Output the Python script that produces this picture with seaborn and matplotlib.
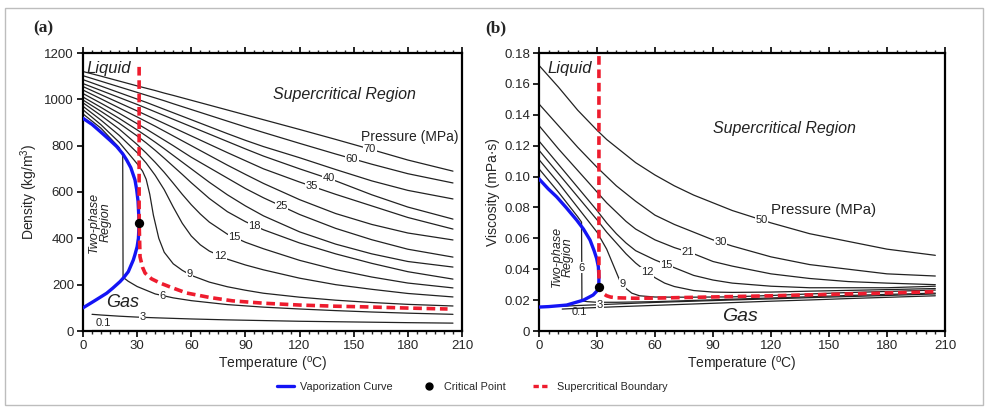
import numpy as np
import pandas as pd
import matplotlib
matplotlib.use("Agg")
import matplotlib.pyplot as plt
from matplotlib.lines import Line2D
from matplotlib.patches import Rectangle
from matplotlib.ticker import MultipleLocator, FuncFormatter
import seaborn as sns

# ---------------- data : panel (a) density (kg/m3) ----------------
TA = [0, 10, 20, 30, 35, 40, 45, 50, 60, 70, 80, 90, 100, 120, 140, 160, 180, 205]
TA2 = [0, 10, 20, 30, 35, 40, 45, 50, 55, 60, 65, 70, 80, 90, 100, 120, 140, 160, 180, 205]
rho_70 = [1120, 1100, 1079, 1058, 1048, 1038, 1027, 1017, 996, 975, 954, 933, 912, 870, 827, 783, 738, 690]
rho_60 = [1102, 1078, 1054, 1030, 1018, 1006, 994, 981, 956, 931, 906, 881, 857, 810, 764, 720, 679, 639]
rho_50 = [1085, 1057, 1029, 1001, 987, 972, 957, 942, 912, 882, 852, 823, 796, 748, 697, 648, 607, 570]
rho_40 = [1068, 1038, 1008, 978, 962, 946, 930, 914, 882, 850, 818, 786, 755, 700, 648, 588, 535, 483]
rho_35 = [1055, 1020, 985, 950, 932, 914, 896, 878, 842, 806, 770, 735, 700, 643, 590, 540, 490, 440]
rho_30 = [1040, 1002, 963, 924, 904, 884, 863, 842, 800, 758, 716, 676, 637, 567, 507, 460, 423, 393]
rho_25 = [1025, 983, 940, 895, 872, 848, 824, 800, 750, 705, 660, 615, 575, 503, 443, 394, 353, 319]
rho_21 = [1010, 965, 918, 868, 842, 815, 787, 758, 700, 642, 588, 540, 497, 428, 375, 333, 300, 276]
rho_18 = [997, 948, 897, 842, 812, 780, 746, 711, 676, 640, 606, 572, 515, 472, 437, 380, 333, 292, 256, 224]
rho_15 = [985, 930, 872, 805, 768, 728, 685, 638, 590, 545, 505, 470, 418, 383, 355, 305, 265, 233, 207, 186]
rho_12 = [970, 910, 845, 770, 725, 672, 610, 535, 465, 410, 372, 345, 310, 285, 264, 228, 200, 180, 162, 147]
rho_09_T = [0, 10, 20, 30, 33, 35, 37, 39, 42, 45, 50, 55, 60, 70, 80, 90, 100, 120, 140, 160, 180, 205]
rho_09 = [955, 890, 815, 722, 690, 655, 590, 500, 400, 340, 290, 262, 240, 211, 191, 176, 163, 146, 133, 123, 115, 108]
rho_06_T = [0, 10, 20, 22, 22.2, 25, 30, 40, 50, 60, 80, 100, 120, 140, 160, 180, 205]
rho_06 = [937, 875, 792, 760, 232, 215, 192, 160, 143, 131, 114, 103, 95, 88, 82, 77, 72]
rho_03_T = [5, 10, 20, 30, 40, 60, 80, 100, 120, 140, 160, 180, 205]
rho_03 = [72, 69, 64, 60, 57, 52, 48, 45, 42, 40, 38, 36, 34]
rho_01_T = [5, 50, 100, 150, 205]
rho_01 = [2.0, 1.7, 1.5, 1.3, 1.2]

vap_a_T = [0, 5, 9.4, 15, 18.7, 22, 24.2, 26.5, 28.8, 29.7, 30.5, 31.1, 30.7, 30.0, 28.8,
           27.9, 25.1, 22.5, 20.5, 16.5, 13.1, 9, 5.7, 0]
vap_a = [918, 892, 862, 823, 796, 765, 738, 705, 652, 612, 560, 467, 400, 364, 330,
         307, 256, 230, 213, 185, 163, 143, 127, 100]
scb_a_T = [31.1, 31.1, 31.6, 33, 34.4, 38, 42.7, 50, 57.4, 70, 83, 100, 120, 140, 157, 180, 202]
scb_a = [1140, 470, 320, 275, 250, 225, 207, 185, 164, 145, 130, 120, 112, 107, 104, 99, 95]
crit_a = (31.1, 467)

# ---------------- data : panel (b) viscosity (mPa s) ----------------
TB = [0, 10, 20, 30, 35, 40, 45, 50, 60, 70, 80, 90, 100, 120, 140, 160, 180, 205]
mu_50 = [0.172, 0.158, 0.143, 0.130, 0.124, 0.119, 0.114, 0.109, 0.101, 0.094, 0.088, 0.083, 0.078, 0.070, 0.063, 0.058, 0.053, 0.049]
mu_30 = [0.147, 0.133, 0.119, 0.106, 0.100, 0.094, 0.089, 0.084, 0.075, 0.069, 0.064, 0.059, 0.055, 0.048, 0.043, 0.040, 0.037, 0.0356]
mu_21 = [0.133, 0.118, 0.104, 0.090, 0.083, 0.077, 0.071, 0.066, 0.059, 0.054, 0.050, 0.045, 0.042, 0.037, 0.034, 0.032, 0.031, 0.030]
mu_15 = [0.123, 0.108, 0.093, 0.078, 0.070, 0.063, 0.057, 0.052, 0.046, 0.041, 0.036, 0.033, 0.031, 0.029, 0.028, 0.028, 0.028, 0.029]
mu_12_T = [0, 10, 20, 30, 35, 40, 45, 50, 55, 60, 65, 70, 80, 90, 100, 120, 140, 160, 180, 205]
mu_12 = [0.117, 0.102, 0.087, 0.072, 0.064, 0.057, 0.050, 0.044, 0.039, 0.0345, 0.031, 0.0288, 0.0262, 0.0252, 0.0250, 0.0252, 0.0258, 0.0263, 0.0268, 0.0275]
mu_09_T = [0, 10, 20, 30, 35, 38, 40, 42, 45, 48, 52, 60, 70, 80, 100, 120, 140, 160, 180, 205]
mu_09 = [0.111, 0.096, 0.080, 0.064, 0.053, 0.044, 0.038, 0.032, 0.0275, 0.0245, 0.0228, 0.0220, 0.0219, 0.0219, 0.0221, 0.0230, 0.0240, 0.0249, 0.0256, 0.0265]
mu_06_T = [0, 10, 20, 22, 22.2, 25, 30, 40, 60, 80, 100, 120, 140, 160, 180, 205]
mu_06 = [0.105, 0.090, 0.074, 0.0705, 0.0195, 0.0190, 0.0186, 0.0186, 0.0190, 0.0198, 0.0206, 0.0214, 0.0222, 0.0230, 0.0237, 0.0245]
mu_03_T = [12, 20, 30, 40, 60, 80, 100, 120, 140, 160, 180, 205]
mu_03 = [0.0160, 0.0165, 0.0170, 0.0175, 0.0185, 0.0193, 0.0201, 0.0208, 0.0216, 0.0223, 0.0230, 0.0240]
mu_01_T = [12, 20, 40, 60, 80, 100, 120, 140, 160, 180, 205]
mu_01 = [0.0142, 0.0147, 0.0157, 0.0166, 0.0175, 0.0184, 0.0193, 0.0201, 0.0210, 0.0218, 0.0228]

vap_b_T = [0, 4.8, 9.1, 14, 19.5, 23, 26.4, 28.5, 29.8, 30.7, 31.0, 30.9, 30.4, 28, 23, 14.3, 5, 0]
vap_b = [0.0985, 0.092, 0.0869, 0.080, 0.0718, 0.066, 0.0589, 0.052, 0.047, 0.0416, 0.034, 0.0287, 0.0265, 0.0233, 0.0200, 0.0168, 0.0158, 0.0155]
scb_b_T = [31, 31, 31, 32, 33.5, 35, 37, 40, 50, 60, 80, 100, 120, 140, 160, 180, 204]
scb_b = [0.178, 0.05, 0.0287, 0.0265, 0.024, 0.0228, 0.022, 0.0215, 0.0212, 0.0213, 0.0218, 0.0223, 0.0228, 0.0234, 0.0240, 0.0246, 0.0254]
crit_b = (31.0, 0.0285)

# label names and where along T they sit
lab_a_names = ["70", "60", "40", "35", "25", "18", "15", "12", "9", "6", "3"]
lab_a_T = [159, 149, 136, 127, 110, 95, 84, 76, 59, 44, 33]
lab_b_names = ["50", "30", "21", "15", "12", "9", "3"]
lab_b_T = [115, 94, 77, 66, 56, 43, 31.5]

# ---------------- style ----------------
sns.set_theme(style="ticks")
plt.rcParams["font.family"] = ["Liberation Sans", "DejaVu Sans"]
plt.rcParams["mathtext.fontset"] = "custom"
plt.rcParams["mathtext.rm"] = "Liberation Sans"
plt.rcParams["mathtext.it"] = "Liberation Sans:italic"

BLUE = "#1414f5"
RED = "#ee1c2e"
LINEC = "#222222"

fig = plt.figure(figsize=(9.87, 4.08), dpi=100)
W, H = 987.0, 408.0
axA = fig.add_axes([83 / W, 1 - 331 / H, 379 / W, 278 / H])
axB = fig.add_axes([539 / W, 1 - 331 / H, 406 / W, 278 / H])


def long_df(curves):
    rows = []
    for name, ts, vs in curves:
        for t, v in zip(ts, vs):
            rows.append((name, t, v))
    return pd.DataFrame(rows, columns=["P", "T", "v"])


curves_a = [("70", TA, rho_70), ("60", TA, rho_60), ("50", TA, rho_50), ("40", TA, rho_40),
            ("35", TA, rho_35), ("30", TA, rho_30), ("25", TA, rho_25), ("21", TA, rho_21),
            ("18", TA2, rho_18), ("15", TA2, rho_15), ("12", TA2, rho_12), ("9", rho_09_T, rho_09),
            ("6", rho_06_T, rho_06), ("3", rho_03_T, rho_03), ("0.1", rho_01_T, rho_01)]
curves_b = [("50", TB, mu_50), ("30", TB, mu_30), ("21", TB, mu_21), ("15", TB, mu_15),
            ("12", mu_12_T, mu_12), ("9", mu_09_T, mu_09), ("6", mu_06_T, mu_06),
            ("3", mu_03_T, mu_03), ("0.1", mu_01_T, mu_01)]


def draw_panel(ax, curves, vapT, vapV, scbT, scbV, crit):
    df = long_df(curves)
    sns.lineplot(data=df, x="T", y="v", units="P", estimator=None, sort=False,
                 color=LINEC, lw=0.9, ax=ax, legend=False, zorder=2)
    sns.lineplot(x=vapT, y=vapV, sort=False, estimator=None, color=BLUE, lw=2.4, ax=ax, zorder=4)
    sns.lineplot(x=scbT, y=scbV, sort=False, estimator=None, color=RED, lw=2.6, ax=ax, zorder=5)
    ax.lines[-1].set_dashes((2.4, 1.3))
    for ln in ax.lines:
        ln.set_solid_joinstyle("round")
    sns.scatterplot(x=[crit[0]], y=[crit[1]], color="black", s=45, ax=ax, zorder=6,
                    edgecolor="black", linewidth=0)
    ax.set_xlim(0, 210)
    ax.xaxis.set_major_locator(MultipleLocator(30))
    ax.xaxis.set_minor_locator(MultipleLocator(5))
    ax.tick_params(axis="x", which="both", top=True, direction="out")
    ax.tick_params(axis="both", which="major", length=4.5, width=1.2, labelsize=9.5, pad=2, color="black")
    ax.tick_params(axis="x", which="minor", length=2.5, width=1.0, top=True)
    for s in ax.spines.values():
        s.set_linewidth(1.6)
        s.set_color("black")
    ax.set_xlabel("Temperature ($^{\\mathrm{o}}$C)", fontsize=10, labelpad=2)


def label_lines(ax, names, ts, curves, fs=8):
    lookup = {n: (t, v) for n, t, v in curves}
    for n, tt in zip(names, ts):
        cx, cy = lookup[n]
        yy = np.interp(tt, cx, cy)
        ax.text(tt, yy, n, fontsize=fs, ha="center", va="center", color=LINEC, zorder=3,
                bbox=dict(boxstyle="square,pad=0.05", fc="white", ec="none"))


# ---- panel a ----
draw_panel(axA, curves_a, vap_a_T, vap_a, scb_a_T, scb_a, crit_a)
axA.set_ylim(0, 1200)
axA.yaxis.set_major_locator(MultipleLocator(200))
axA.set_ylabel("Density (kg/m$^3$)", fontsize=10, labelpad=3)
label_lines(axA, lab_a_names, lab_a_T, curves_a)
axA.text(11, 33, "0.1", fontsize=8, ha="center", va="center", color=LINEC)
axA.text(2, 1135, "Liquid", style="italic", fontsize=12, ha="left", va="center", color=LINEC)
axA.text(145, 1023, "Supercritical Region", style="italic", fontsize=11.5, ha="center", va="center", color=LINEC)
axA.text(181, 838, "Pressure (MPa)", fontsize=10, ha="center", va="center", color=LINEC)
axA.text(9.5, 470, "Two-phase\nRegion", style="italic", fontsize=9, rotation=90, ha="center",
         va="center", linespacing=0.95, color=LINEC)
axA.text(22, 123, "Gas", style="italic", fontsize=13, ha="center", va="center", color=LINEC)

# ---- panel b ----
draw_panel(axB, curves_b, vap_b_T, vap_b, scb_b_T, scb_b, crit_b)
axB.set_ylim(0, 0.18)
axB.yaxis.set_major_locator(MultipleLocator(0.02))
axB.yaxis.set_major_formatter(FuncFormatter(lambda v, p: "0" if abs(v) < 1e-9 else f"{v:.2f}"))
axB.set_ylabel("Viscosity (mPa\u00b7s)", fontsize=10, labelpad=3)
label_lines(axB, lab_b_names, lab_b_T, curves_b)
axB.text(22, 0.041, "6", fontsize=8, ha="center", va="center", color=LINEC, zorder=3,
         bbox=dict(boxstyle="square,pad=0.05", fc="white", ec="none"))
axB.text(21, 0.0125, "0.1", fontsize=8, ha="center", va="center", color=LINEC)
axB.text(4.5, 0.170, "Liquid", style="italic", fontsize=12, ha="left", va="center", color=LINEC)
axB.text(127, 0.131, "Supercritical Region", style="italic", fontsize=11.5, ha="center", va="center", color=LINEC)
axB.text(147, 0.0783, "Pressure (MPa)", fontsize=10.8, ha="center", va="center", color=LINEC)
axB.text(12, 0.048, "Two-phase\nRegion", style="italic", fontsize=9, rotation=90, ha="center",
         va="center", linespacing=0.95, color=LINEC)
axB.text(104, 0.0097, "Gas", style="italic", fontsize=14, ha="center", va="center", color=LINEC)

# panel letters
fig.text(43 / W, 1 - 28 / H, "(a)", fontsize=12.5, fontweight="bold", family=["Liberation Serif"],
         ha="center", va="center")
fig.text(496 / W, 1 - 28 / H, "(b)", fontsize=12.5, fontweight="bold", family=["Liberation Serif"],
         ha="center", va="center")

# legend
handles = [Line2D([], [], color=BLUE, lw=2.4),
           Line2D([], [], color="black", marker="o", ms=5, lw=0),
           Line2D([], [], color=RED, lw=2.4, dashes=(1.6, 1.0))]
fig.legend(handles, ["Vaporization Curve", "Critical Point", "Supercritical Boundary"],
           loc="center", bbox_to_anchor=(472 / W, 1 - 387 / H), ncol=3, frameon=False,
           fontsize=7.8, handlelength=1.6, columnspacing=2.5, handletextpad=0.6)

# outer frame
fig.patches.append(Rectangle((5 / W, 3 / H), 978 / W, 397 / H, transform=fig.transFigure,
                             fill=False, ec="#bdbdbd", lw=1.0))

fig.savefig("out.png", dpi=100)
